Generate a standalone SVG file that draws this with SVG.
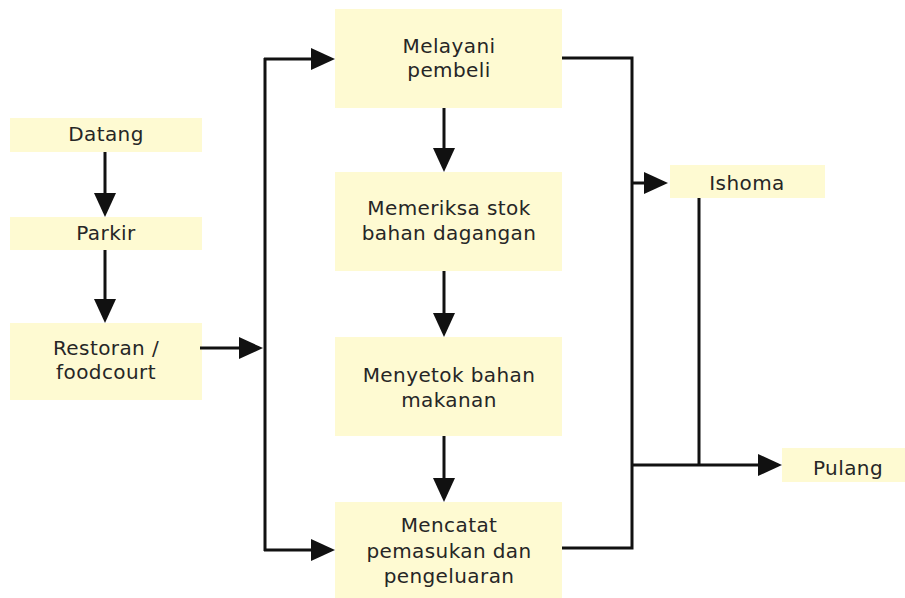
<svg xmlns="http://www.w3.org/2000/svg" width="905" height="598" viewBox="0 0 905 598">
  <style>
    .box { fill: #fefad2; }
    .lbl { font-family: "DejaVu Sans", "Liberation Sans", sans-serif; font-size: 20px; letter-spacing: 0.4px; fill: #262626; text-anchor: middle; }
    .wire { fill: none; stroke: #111; stroke-width: 3; }
    .arrow { fill: none; stroke: #111; stroke-width: 3; marker-end: url(#head); }
  </style>
  <defs>
    <marker id="head" viewBox="0 0 24 22" refX="20" refY="11" markerWidth="24" markerHeight="22" markerUnits="userSpaceOnUse" orient="auto">
      <path d="M0,0 L24,11 L0,22 z" fill="#111"/>
    </marker>
  </defs>
  <rect width="905" height="598" fill="#fff"/>

  <g id="datang">
    <rect class="box" x="10" y="118" width="192" height="34"/>
    <text class="lbl" x="106" y="141">Datang</text>
  </g>
  <g id="parkir">
    <rect class="box" x="10" y="217" width="192" height="33"/>
    <text class="lbl" x="106" y="240">Parkir</text>
  </g>
  <g id="restoran">
    <rect class="box" x="10" y="323" width="192" height="77"/>
    <text class="lbl" x="106" y="355">Restoran /</text>
    <text class="lbl" x="106" y="379">foodcourt</text>
  </g>
  <g id="melayani">
    <rect class="box" x="335" y="9" width="227" height="99"/>
    <text class="lbl" x="449" y="53">Melayani</text>
    <text class="lbl" x="449" y="77">pembeli</text>
  </g>
  <g id="memeriksa">
    <rect class="box" x="335" y="172" width="227" height="99"/>
    <text class="lbl" x="449" y="215">Memeriksa stok</text>
    <text class="lbl" x="449" y="240">bahan dagangan</text>
  </g>
  <g id="menyetok">
    <rect class="box" x="335" y="337" width="227" height="99"/>
    <text class="lbl" x="449" y="382">Menyetok bahan</text>
    <text class="lbl" x="449" y="407">makanan</text>
  </g>
  <g id="mencatat">
    <rect class="box" x="335" y="502" width="227" height="96"/>
    <text class="lbl" x="449" y="532">Mencatat</text>
    <text class="lbl" x="449" y="558">pemasukan dan</text>
    <text class="lbl" x="449" y="583">pengeluaran</text>
  </g>
  <g id="ishoma">
    <rect class="box" x="670" y="165" width="155" height="33"/>
    <text class="lbl" x="747" y="190">Ishoma</text>
  </g>
  <g id="pulang">
    <rect class="box" x="782" y="448" width="123" height="34"/>
    <text class="lbl" x="848" y="475">Pulang</text>
  </g>

  <g id="connectors">
    <path class="arrow" d="M105,152 V213"/>
    <path class="arrow" d="M105,250 V319"/>
    <path class="arrow" d="M200,348 H259"/>
    <path class="wire" d="M265,58 V551"/>
    <path class="arrow" d="M264,59 H331"/>
    <path class="arrow" d="M264,550 H331"/>
    <path class="arrow" d="M444,108 V168"/>
    <path class="arrow" d="M444,271 V333"/>
    <path class="arrow" d="M444,436 V498"/>
    <path class="wire" d="M562,58 H632 V548 H562"/>
    <path class="arrow" d="M632,183 H664"/>
    <path class="arrow" d="M632,465 H778"/>
    <path class="wire" d="M699,198 V465"/>
  </g>
</svg>
